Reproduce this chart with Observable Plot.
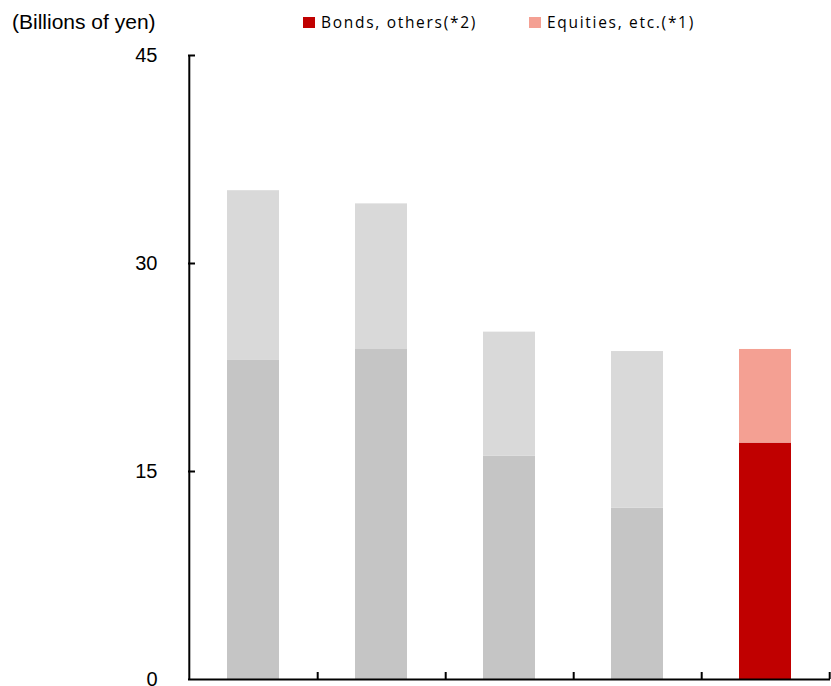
<!DOCTYPE html>
<html>
<head>
<meta charset="utf-8">
<script src="https://cdn.jsdelivr.net/npm/d3@7"></script>
<script src="https://cdn.jsdelivr.net/npm/@observablehq/plot@0.6"></script>
<style>
  html, body { margin: 0; padding: 0; background: #fff; overflow: hidden; }
  #wrap { position: relative; width: 831px; }
  #head { position: relative; height: 40px; font-family: "Liberation Sans", Arial, sans-serif; }
  #unit { position: absolute; left: 12px; top: 10px; font-size: 21px; color: #000; letter-spacing: 0px; }
  .lg { position: absolute; top: 11px; font-family: "Open Sans", sans-serif; font-size: 15.5px; letter-spacing: 1.7px; color: #000; display: flex; align-items: center; }
  .sw { width: 12px; height: 11px; margin-right: 6px; display: inline-block; }
</style>
</head>
<body>
<div id="wrap">
  <div id="head">
    <div id="unit">(Billions of yen)</div>
  </div>
  <div id="chart"></div>
</div>
<script>
// Fiscal periods shown left to right (labels are not printed on the axis)
const periods = ["FY2019", "FY2020", "FY2021", "FY2022", "FY2023"];
// Series values, billions of yen
const bonds = [23.05, 23.8, 16.1, 12.35, 17.05];
const equities = [12.2, 10.5, 8.95, 11.3, 6.75];
// Legend labels and series order (bottom to top)
const seriesNames = ["Bonds, others(*2)", "Equities, etc.(*1)"];
// Only the latest period is highlighted in colour; the rest are greyed out
const highlighted = ["FY2023"];
const yTicks = [0, 15, 30, 45];

const colorOn = {"Bonds, others(*2)": "#c00000", "Equities, etc.(*1)": "#f4a093"};
const colorOff = {"Bonds, others(*2)": "#c5c5c5", "Equities, etc.(*1)": "#d9d9d9"};

const rows = [];
periods.forEach((p, i) => {
  rows.push({period: p, series: seriesNames[0], value: bonds[i]});
  rows.push({period: p, series: seriesNames[1], value: equities[i]});
});

// Legend
const head = document.getElementById("head");
const legendLeft = [303, 529];
seriesNames.forEach((name, i) => {
  const el = document.createElement("div");
  el.className = "lg";
  el.style.left = legendLeft[i] + "px";
  const sw = document.createElement("span");
  sw.className = "sw";
  sw.style.background = colorOn[name];
  el.appendChild(sw);
  el.appendChild(document.createTextNode(name));
  head.appendChild(el);
});

const width = 831, marginLeft = 188, marginRight = 1;
const pInner = 0.595;
const step = (width - marginLeft - marginRight) / periods.length;
const tick = 7;

const chart = Plot.plot({
  width,
  height: 680,
  marginTop: 15,
  marginBottom: 41,
  marginLeft,
  marginRight,
  style: {fontFamily: "Liberation Sans, Arial, sans-serif", fontSize: "20px", color: "#000", background: "#fff"},
  x: {domain: periods, paddingInner: pInner, paddingOuter: pInner / 2, axis: null, label: null},
  y: {domain: [0, 45], axis: null, label: null},
  marks: [
    Plot.barY(rows, Plot.stackY({
      x: "period",
      y: "value",
      order: seriesNames,
      fill: d => (highlighted.includes(d.period) ? colorOn : colorOff)[d.series]
    })),
    // y-axis labels
    Plot.axisY({ticks: yTicks, tickSize: 0, tickPadding: 31, fontSize: 20, tickFormat: d => d, label: null}),
    // inward y ticks (shifted to the inside of the axis line)
    Plot.axisY({ticks: yTicks.slice(1), tickSize: tick, dx: tick, text: null, strokeWidth: 2, label: null}),
    // x ticks at category boundaries, pointing up
    Plot.axisX(periods, {tickSize: tick, dy: -tick, text: null, dx: step / 2, strokeWidth: 2, label: null}),
    Plot.ruleX([0], {x: () => periods[0], dx: -step / 2, y1: 0, y2: 45, strokeWidth: 2}),
    Plot.ruleY([0], {strokeWidth: 2})
  ]
});
document.getElementById("chart").appendChild(chart);
</script>
</body>
</html>
